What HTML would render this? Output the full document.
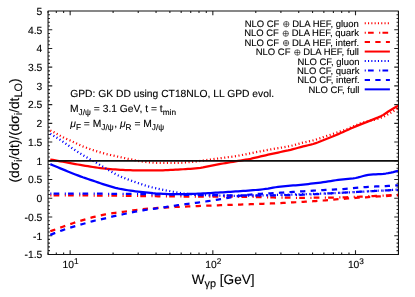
<!DOCTYPE html>
<html><head><meta charset="utf-8"><title>plot</title>
<style>
html,body{margin:0;padding:0;background:#fff;}
body{width:415px;height:297px;overflow:hidden;font-family:"Liberation Sans",sans-serif;}
svg text{white-space:pre;stroke:#000;stroke-width:0.12px;text-rendering:geometricPrecision;}
</style></head><body>
<svg width="415" height="297" viewBox="0 0 415 297" style="display:block;will-change:transform;transform:translateZ(0)">
<rect x="0" y="0" width="415" height="297" fill="#ffffff"/>
<defs><clipPath id="pc"><rect x="48.05" y="11.0" width="350.4" height="243.4"/></clipPath></defs>
<path d="M48.05,250.66h1.9M398.45,250.66h-1.9M48.05,246.91h1.9M398.45,246.91h-1.9M48.05,243.17h1.9M398.45,243.17h-1.9M48.05,239.42h1.9M398.45,239.42h-1.9M48.05,235.68h4.2M398.45,235.68h-4.2M48.05,231.93h1.9M398.45,231.93h-1.9M48.05,228.19h1.9M398.45,228.19h-1.9M48.05,224.44h1.9M398.45,224.44h-1.9M48.05,220.70h1.9M398.45,220.70h-1.9M48.05,216.95h4.2M398.45,216.95h-4.2M48.05,213.21h1.9M398.45,213.21h-1.9M48.05,209.46h1.9M398.45,209.46h-1.9M48.05,205.72h1.9M398.45,205.72h-1.9M48.05,201.98h1.9M398.45,201.98h-1.9M48.05,198.23h4.2M398.45,198.23h-4.2M48.05,194.49h1.9M398.45,194.49h-1.9M48.05,190.74h1.9M398.45,190.74h-1.9M48.05,187.00h1.9M398.45,187.00h-1.9M48.05,183.25h1.9M398.45,183.25h-1.9M48.05,179.51h4.2M398.45,179.51h-4.2M48.05,175.76h1.9M398.45,175.76h-1.9M48.05,172.02h1.9M398.45,172.02h-1.9M48.05,168.27h1.9M398.45,168.27h-1.9M48.05,164.53h1.9M398.45,164.53h-1.9M48.05,160.78h4.2M398.45,160.78h-4.2M48.05,157.04h1.9M398.45,157.04h-1.9M48.05,153.30h1.9M398.45,153.30h-1.9M48.05,149.55h1.9M398.45,149.55h-1.9M48.05,145.81h1.9M398.45,145.81h-1.9M48.05,142.06h4.2M398.45,142.06h-4.2M48.05,138.32h1.9M398.45,138.32h-1.9M48.05,134.57h1.9M398.45,134.57h-1.9M48.05,130.83h1.9M398.45,130.83h-1.9M48.05,127.08h1.9M398.45,127.08h-1.9M48.05,123.34h4.2M398.45,123.34h-4.2M48.05,119.59h1.9M398.45,119.59h-1.9M48.05,115.85h1.9M398.45,115.85h-1.9M48.05,112.10h1.9M398.45,112.10h-1.9M48.05,108.36h1.9M398.45,108.36h-1.9M48.05,104.62h4.2M398.45,104.62h-4.2M48.05,100.87h1.9M398.45,100.87h-1.9M48.05,97.13h1.9M398.45,97.13h-1.9M48.05,93.38h1.9M398.45,93.38h-1.9M48.05,89.64h1.9M398.45,89.64h-1.9M48.05,85.89h4.2M398.45,85.89h-4.2M48.05,82.15h1.9M398.45,82.15h-1.9M48.05,78.40h1.9M398.45,78.40h-1.9M48.05,74.66h1.9M398.45,74.66h-1.9M48.05,70.91h1.9M398.45,70.91h-1.9M48.05,67.17h4.2M398.45,67.17h-4.2M48.05,63.42h1.9M398.45,63.42h-1.9M48.05,59.68h1.9M398.45,59.68h-1.9M48.05,55.94h1.9M398.45,55.94h-1.9M48.05,52.19h1.9M398.45,52.19h-1.9M48.05,48.45h4.2M398.45,48.45h-4.2M48.05,44.70h1.9M398.45,44.70h-1.9M48.05,40.96h1.9M398.45,40.96h-1.9M48.05,37.21h1.9M398.45,37.21h-1.9M48.05,33.47h1.9M398.45,33.47h-1.9M48.05,29.72h4.2M398.45,29.72h-4.2M48.05,25.98h1.9M398.45,25.98h-1.9M48.05,22.23h1.9M398.45,22.23h-1.9M48.05,18.49h1.9M398.45,18.49h-1.9M48.05,14.74h1.9M398.45,14.74h-1.9M48.05,254.4v-1.9M48.05,11.0v1.9M56.32,254.4v-1.9M56.32,11.0v1.9M63.62,254.4v-1.9M63.62,11.0v1.9M70.15,254.4v-4.2M70.15,11.0v4.2M113.10,254.4v-1.9M113.10,11.0v1.9M138.22,254.4v-1.9M138.22,11.0v1.9M156.05,254.4v-1.9M156.05,11.0v1.9M169.88,254.4v-1.9M169.88,11.0v1.9M181.17,254.4v-1.9M181.17,11.0v1.9M190.72,254.4v-1.9M190.72,11.0v1.9M199.00,254.4v-1.9M199.00,11.0v1.9M206.30,254.4v-1.9M206.30,11.0v1.9M212.83,254.4v-4.2M212.83,11.0v4.2M255.78,254.4v-1.9M255.78,11.0v1.9M280.90,254.4v-1.9M280.90,11.0v1.9M298.72,254.4v-1.9M298.72,11.0v1.9M312.55,254.4v-1.9M312.55,11.0v1.9M323.85,254.4v-1.9M323.85,11.0v1.9M333.40,254.4v-1.9M333.40,11.0v1.9M341.67,254.4v-1.9M341.67,11.0v1.9M348.97,254.4v-1.9M348.97,11.0v1.9M355.50,254.4v-4.2M355.50,11.0v4.2M398.45,254.4v-1.9M398.45,11.0v1.9" stroke="#222222" stroke-width="1.1" fill="none"/>
<g clip-path="url(#pc)" fill="none" stroke-linecap="butt" stroke-linejoin="round">
<path d="M50.3,130.41 L52.8,131.65 L55.3,133.02 L57.8,134.44 L60.3,135.86 L62.8,137.22 L65.3,138.44 L67.8,139.52 L70.3,140.56 L72.8,141.69 L75.3,142.87 L77.8,144.08 L80.3,145.25 L82.8,146.35 L85.4,147.35 L87.9,148.30 L90.4,149.20 L92.9,150.06 L95.4,150.88 L97.9,151.66 L100.4,152.39 L102.9,153.09 L105.4,153.75 L107.9,154.38 L110.4,154.99 L112.9,155.58 L115.4,156.13 L117.9,156.67 L120.4,157.21 L122.9,157.74 L125.4,158.27 L127.9,158.79 L130.4,159.31 L132.9,159.85 L135.4,160.38 L137.9,160.86 L140.4,161.25 L142.9,161.61 L145.4,161.92 L147.9,162.18 L150.4,162.39 L152.9,162.59 L155.5,162.74 L158.0,162.80 L160.5,162.83 L163.0,162.85 L165.5,162.87 L168.0,162.88 L170.5,162.89 L173.0,162.90 L175.5,162.90 L178.0,162.88 L180.5,162.80 L183.0,162.65 L185.5,162.46 L188.0,162.26 L190.5,162.06 L193.0,161.82 L195.5,161.55 L198.0,161.25 L200.5,160.94 L203.0,160.60 L205.5,160.24 L208.0,159.87 L210.5,159.51 L213.0,159.16 L215.5,158.82 L218.0,158.50 L220.5,158.17 L223.0,157.84 L225.6,157.51 L228.1,157.20 L230.6,156.88 L233.1,156.55 L235.6,156.18 L238.1,155.76 L240.6,155.29 L243.1,154.78 L245.6,154.29 L248.1,153.79 L250.6,153.28 L253.1,152.78 L255.6,152.28 L258.1,151.79 L260.6,151.30 L263.1,150.81 L265.6,150.34 L268.1,149.88 L270.6,149.44 L273.1,149.02 L275.6,148.61 L278.1,148.20 L280.6,147.78 L283.1,147.35 L285.6,146.93 L288.1,146.47 L290.6,145.96 L293.1,145.34 L295.7,144.65 L298.2,143.94 L300.7,143.24 L303.2,142.62 L305.7,142.05 L308.2,141.51 L310.7,140.95 L313.2,140.34 L315.7,139.65 L318.2,138.87 L320.7,138.04 L323.2,137.18 L325.7,136.33 L328.2,135.51 L330.7,134.68 L333.2,133.86 L335.7,133.03 L338.2,132.19 L340.7,131.36 L343.2,130.56 L345.7,129.70 L348.2,128.67 L350.7,127.51 L353.2,126.35 L355.7,125.29 L358.2,124.26 L360.7,123.32 L363.2,122.52 L365.8,121.83 L368.3,121.19 L370.8,120.57 L373.3,120.00 L375.8,119.37 L378.3,118.62 L380.8,117.77 L383.3,116.79 L385.8,115.60 L388.3,114.19 L390.8,112.75 L393.3,111.26 L395.8,109.69 L398.3,108.00" stroke="#ff0000" stroke-width="2.25" stroke-dasharray="1.1,2.5"/>
<path d="M50.3,195.30 L52.8,195.31 L55.3,195.32 L57.8,195.32 L60.3,195.33 L62.8,195.34 L65.3,195.35 L67.8,195.37 L70.3,195.38 L72.8,195.39 L75.3,195.41 L77.8,195.42 L80.3,195.44 L82.8,195.45 L85.4,195.47 L87.9,195.49 L90.4,195.51 L92.9,195.53 L95.4,195.55 L97.9,195.57 L100.4,195.59 L102.9,195.61 L105.4,195.63 L107.9,195.65 L110.4,195.68 L112.9,195.70 L115.4,195.72 L117.9,195.74 L120.4,195.77 L122.9,195.79 L125.4,195.81 L127.9,195.84 L130.4,195.87 L132.9,195.91 L135.4,195.94 L137.9,195.98 L140.4,196.02 L142.9,196.06 L145.4,196.10 L147.9,196.14 L150.4,196.18 L152.9,196.21 L155.5,196.25 L158.0,196.28 L160.5,196.30 L163.0,196.33 L165.5,196.35 L168.0,196.38 L170.5,196.40 L173.0,196.42 L175.5,196.44 L178.0,196.46 L180.5,196.48 L183.0,196.50 L185.5,196.52 L188.0,196.54 L190.5,196.55 L193.0,196.57 L195.5,196.59 L198.0,196.60 L200.5,196.61 L203.0,196.63 L205.5,196.64 L208.0,196.65 L210.5,196.65 L213.0,196.66 L215.5,196.67 L218.0,196.68 L220.5,196.69 L223.0,196.69 L225.6,196.70 L228.1,196.71 L230.6,196.72 L233.1,196.73 L235.6,196.74 L238.1,196.76 L240.6,196.77 L243.1,196.79 L245.6,196.82 L248.1,196.86 L250.6,196.92 L253.1,196.98 L255.6,197.06 L258.1,197.14 L260.6,197.22 L263.1,197.29 L265.6,197.35 L268.1,197.40 L270.6,197.44 L273.1,197.49 L275.6,197.53 L278.1,197.57 L280.6,197.62 L283.1,197.65 L285.6,197.69 L288.1,197.72 L290.6,197.75 L293.1,197.77 L295.7,197.79 L298.2,197.80 L300.7,197.80 L303.2,197.80 L305.7,197.79 L308.2,197.78 L310.7,197.76 L313.2,197.75 L315.7,197.73 L318.2,197.70 L320.7,197.67 L323.2,197.65 L325.7,197.61 L328.2,197.58 L330.7,197.55 L333.2,197.51 L335.7,197.47 L338.2,197.43 L340.7,197.39 L343.2,197.33 L345.7,197.26 L348.2,197.18 L350.7,197.09 L353.2,196.98 L355.7,196.87 L358.2,196.75 L360.7,196.64 L363.2,196.52 L365.8,196.40 L368.3,196.28 L370.8,196.17 L373.3,196.05 L375.8,195.94 L378.3,195.82 L380.8,195.70 L383.3,195.58 L385.8,195.45 L388.3,195.33 L390.8,195.20 L393.3,195.07 L395.8,194.93 L398.3,194.80" stroke="#ff0000" stroke-width="2.25" stroke-dasharray="1.1,2.2,5.7,5.45"/>
<path d="M50.3,231.28 L52.8,230.34 L55.3,229.44 L57.8,228.56 L60.3,227.68 L62.8,226.79 L65.3,225.90 L67.8,225.00 L70.3,224.11 L72.8,223.26 L75.3,222.43 L77.8,221.62 L80.3,220.84 L82.8,220.08 L85.4,219.33 L87.9,218.59 L90.4,217.89 L92.9,217.21 L95.4,216.57 L97.9,215.95 L100.4,215.36 L102.9,214.82 L105.4,214.35 L107.9,213.92 L110.4,213.53 L112.9,213.16 L115.4,212.80 L117.9,212.47 L120.4,212.15 L122.9,211.83 L125.4,211.49 L127.9,211.11 L130.4,210.73 L132.9,210.36 L135.4,210.02 L137.9,209.69 L140.4,209.38 L142.9,209.10 L145.4,208.86 L147.9,208.66 L150.4,208.47 L152.9,208.30 L155.5,208.14 L158.0,207.98 L160.5,207.82 L163.0,207.66 L165.5,207.51 L168.0,207.36 L170.5,207.21 L173.0,207.08 L175.5,206.95 L178.0,206.83 L180.5,206.72 L183.0,206.62 L185.5,206.52 L188.0,206.43 L190.5,206.33 L193.0,206.24 L195.5,206.14 L198.0,206.05 L200.5,205.95 L203.0,205.86 L205.5,205.77 L208.0,205.68 L210.5,205.58 L213.0,205.49 L215.5,205.40 L218.0,205.30 L220.5,205.21 L223.0,205.11 L225.6,205.02 L228.1,204.93 L230.6,204.84 L233.1,204.75 L235.6,204.67 L238.1,204.59 L240.6,204.51 L243.1,204.44 L245.6,204.36 L248.1,204.28 L250.6,204.20 L253.1,204.12 L255.6,204.03 L258.1,203.95 L260.6,203.87 L263.1,203.78 L265.6,203.69 L268.1,203.60 L270.6,203.49 L273.1,203.38 L275.6,203.26 L278.1,203.14 L280.6,203.01 L283.1,202.89 L285.6,202.76 L288.1,202.63 L290.6,202.51 L293.1,202.38 L295.7,202.25 L298.2,202.12 L300.7,201.99 L303.2,201.85 L305.7,201.70 L308.2,201.55 L310.7,201.39 L313.2,201.22 L315.7,201.05 L318.2,200.87 L320.7,200.68 L323.2,200.50 L325.7,200.31 L328.2,200.11 L330.7,199.89 L333.2,199.68 L335.7,199.46 L338.2,199.24 L340.7,199.02 L343.2,198.82 L345.7,198.62 L348.2,198.44 L350.7,198.26 L353.2,198.09 L355.7,197.92 L358.2,197.75 L360.7,197.59 L363.2,197.43 L365.8,197.27 L368.3,197.11 L370.8,196.95 L373.3,196.79 L375.8,196.64 L378.3,196.48 L380.8,196.33 L383.3,196.18 L385.8,196.03 L388.3,195.88 L390.8,195.73 L393.3,195.59 L395.8,195.44 L398.3,195.30" stroke="#ff0000" stroke-width="2.25" stroke-dasharray="5.3,5.3"/>
<path d="M50.3,159.50 L52.8,159.96 L55.3,160.41 L57.8,160.86 L60.3,161.30 L62.8,161.75 L65.3,162.19 L67.8,162.65 L70.3,163.11 L72.8,163.58 L75.3,164.04 L77.8,164.49 L80.3,164.93 L82.8,165.36 L85.4,165.77 L87.9,166.19 L90.4,166.60 L92.9,167.00 L95.4,167.38 L97.9,167.74 L100.4,168.06 L102.9,168.34 L105.4,168.59 L107.9,168.84 L110.4,169.08 L112.9,169.29 L115.4,169.49 L117.9,169.67 L120.4,169.83 L122.9,169.95 L125.4,170.06 L127.9,170.15 L130.4,170.24 L132.9,170.32 L135.4,170.37 L137.9,170.40 L140.4,170.40 L142.9,170.40 L145.4,170.40 L147.9,170.40 L150.4,170.40 L152.9,170.40 L155.5,170.40 L158.0,170.40 L160.5,170.37 L163.0,170.30 L165.5,170.20 L168.0,170.07 L170.5,169.93 L173.0,169.79 L175.5,169.65 L178.0,169.52 L180.5,169.39 L183.0,169.25 L185.5,169.10 L188.0,168.94 L190.5,168.76 L193.0,168.58 L195.5,168.37 L198.0,168.12 L200.5,167.83 L203.0,167.44 L205.5,166.95 L208.0,166.42 L210.5,165.89 L213.0,165.40 L215.5,164.92 L218.0,164.43 L220.5,163.95 L223.0,163.49 L225.6,163.05 L228.1,162.62 L230.6,162.21 L233.1,161.80 L235.6,161.39 L238.1,160.97 L240.6,160.56 L243.1,160.15 L245.6,159.72 L248.1,159.27 L250.6,158.78 L253.1,158.22 L255.6,157.63 L258.1,157.05 L260.6,156.46 L263.1,155.88 L265.6,155.30 L268.1,154.72 L270.6,154.16 L273.1,153.61 L275.6,153.07 L278.1,152.54 L280.6,152.00 L283.1,151.47 L285.6,150.96 L288.1,150.43 L290.6,149.84 L293.1,149.19 L295.7,148.48 L298.2,147.76 L300.7,147.06 L303.2,146.40 L305.7,145.81 L308.2,145.23 L310.7,144.63 L313.2,143.97 L315.7,143.19 L318.2,142.29 L320.7,141.30 L323.2,140.28 L325.7,139.26 L328.2,138.27 L330.7,137.26 L333.2,136.24 L335.7,135.21 L338.2,134.16 L340.7,133.09 L343.2,131.98 L345.7,130.84 L348.2,129.69 L350.7,128.55 L353.2,127.44 L355.7,126.38 L358.2,125.36 L360.7,124.37 L363.2,123.39 L365.8,122.41 L368.3,121.40 L370.8,120.39 L373.3,119.41 L375.8,118.42 L378.3,117.37 L380.8,116.22 L383.3,114.88 L385.8,113.24 L388.3,111.54 L390.8,110.00 L393.3,108.52 L395.8,107.08 L398.3,105.70" stroke="#ff0000" stroke-width="2.25"/>
<path d="M50.3,133.76 L52.8,135.25 L55.3,136.73 L57.8,138.26 L60.3,139.90 L62.8,141.62 L65.3,143.36 L67.8,145.12 L70.3,146.87 L72.8,148.57 L75.3,150.24 L77.8,151.89 L80.3,153.51 L82.8,155.08 L85.4,156.59 L87.9,158.03 L90.4,159.44 L92.9,160.86 L95.4,162.30 L97.9,163.72 L100.4,165.16 L102.9,166.62 L105.4,168.14 L107.9,169.65 L110.4,171.11 L112.9,172.54 L115.4,173.93 L117.9,175.22 L120.4,176.39 L122.9,177.46 L125.4,178.46 L127.9,179.41 L130.4,180.35 L132.9,181.26 L135.4,182.14 L137.9,183.00 L140.4,183.87 L142.9,184.74 L145.4,185.53 L147.9,186.25 L150.4,186.93 L152.9,187.57 L155.5,188.18 L158.0,188.76 L160.5,189.29 L163.0,189.79 L165.5,190.28 L168.0,190.77 L170.5,191.27 L173.0,191.75 L175.5,192.22 L178.0,192.66 L180.5,193.09 L183.0,193.47 L185.5,193.77 L188.0,194.05 L190.5,194.30 L193.0,194.53 L195.5,194.73 L198.0,194.90 L200.5,195.02 L203.0,195.13 L205.5,195.23 L208.0,195.32 L210.5,195.40 L213.0,195.47 L215.5,195.52 L218.0,195.57 L220.5,195.61 L223.0,195.64 L225.6,195.67 L228.1,195.70 L230.6,195.73 L233.1,195.75 L235.6,195.77 L238.1,195.78 L240.6,195.79 L243.1,195.80 L245.6,195.80 L248.1,195.77 L250.6,195.72 L253.1,195.66 L255.6,195.59 L258.1,195.51 L260.6,195.43 L263.1,195.35 L265.6,195.27 L268.1,195.20 L270.6,195.13 L273.1,195.06 L275.6,195.00 L278.1,194.93 L280.6,194.86 L283.1,194.79 L285.6,194.72 L288.1,194.65 L290.6,194.58 L293.1,194.51 L295.7,194.43 L298.2,194.36 L300.7,194.28 L303.2,194.20 L305.7,194.12 L308.2,194.05 L310.7,193.97 L313.2,193.89 L315.7,193.81 L318.2,193.72 L320.7,193.64 L323.2,193.55 L325.7,193.47 L328.2,193.37 L330.7,193.28 L333.2,193.18 L335.7,193.08 L338.2,192.98 L340.7,192.87 L343.2,192.75 L345.7,192.62 L348.2,192.49 L350.7,192.35 L353.2,192.20 L355.7,192.05 L358.2,191.90 L360.7,191.75 L363.2,191.60 L365.8,191.45 L368.3,191.30 L370.8,191.16 L373.3,191.02 L375.8,190.87 L378.3,190.73 L380.8,190.59 L383.3,190.45 L385.8,190.31 L388.3,190.17 L390.8,190.02 L393.3,189.88 L395.8,189.74 L398.3,189.60" stroke="#0000ff" stroke-width="2.25" stroke-dasharray="1.1,2.5"/>
<path d="M50.3,193.50 L52.8,193.50 L55.3,193.51 L57.8,193.51 L60.3,193.51 L62.8,193.52 L65.3,193.53 L67.8,193.54 L70.3,193.55 L72.8,193.56 L75.3,193.57 L77.8,193.58 L80.3,193.59 L82.8,193.60 L85.4,193.62 L87.9,193.63 L90.4,193.65 L92.9,193.67 L95.4,193.68 L97.9,193.70 L100.4,193.72 L102.9,193.74 L105.4,193.75 L107.9,193.77 L110.4,193.79 L112.9,193.81 L115.4,193.83 L117.9,193.85 L120.4,193.87 L122.9,193.89 L125.4,193.91 L127.9,193.94 L130.4,193.96 L132.9,193.99 L135.4,194.03 L137.9,194.06 L140.4,194.10 L142.9,194.13 L145.4,194.17 L147.9,194.21 L150.4,194.25 L152.9,194.29 L155.5,194.33 L158.0,194.37 L160.5,194.41 L163.0,194.45 L165.5,194.49 L168.0,194.53 L170.5,194.57 L173.0,194.61 L175.5,194.66 L178.0,194.70 L180.5,194.74 L183.0,194.78 L185.5,194.82 L188.0,194.86 L190.5,194.90 L193.0,194.94 L195.5,194.97 L198.0,195.00 L200.5,195.03 L203.0,195.06 L205.5,195.09 L208.0,195.12 L210.5,195.15 L213.0,195.18 L215.5,195.21 L218.0,195.23 L220.5,195.26 L223.0,195.29 L225.6,195.31 L228.1,195.33 L230.6,195.35 L233.1,195.37 L235.6,195.38 L238.1,195.39 L240.6,195.40 L243.1,195.40 L245.6,195.40 L248.1,195.40 L250.6,195.40 L253.1,195.40 L255.6,195.40 L258.1,195.40 L260.6,195.40 L263.1,195.40 L265.6,195.40 L268.1,195.40 L270.6,195.39 L273.1,195.38 L275.6,195.35 L278.1,195.32 L280.6,195.27 L283.1,195.23 L285.6,195.17 L288.1,195.11 L290.6,195.05 L293.1,194.98 L295.7,194.92 L298.2,194.85 L300.7,194.78 L303.2,194.70 L305.7,194.61 L308.2,194.51 L310.7,194.40 L313.2,194.28 L315.7,194.16 L318.2,194.02 L320.7,193.89 L323.2,193.74 L325.7,193.60 L328.2,193.46 L330.7,193.31 L333.2,193.17 L335.7,193.03 L338.2,192.89 L340.7,192.76 L343.2,192.63 L345.7,192.50 L348.2,192.36 L350.7,192.23 L353.2,192.09 L355.7,191.96 L358.2,191.82 L360.7,191.69 L363.2,191.55 L365.8,191.42 L368.3,191.29 L370.8,191.16 L373.3,191.03 L375.8,190.91 L378.3,190.78 L380.8,190.65 L383.3,190.53 L385.8,190.41 L388.3,190.28 L390.8,190.16 L393.3,190.04 L395.8,189.92 L398.3,189.80" stroke="#0000ff" stroke-width="2.25" stroke-dasharray="1.1,2.2,5.7,5.45"/>
<path d="M50.3,234.88 L52.8,233.86 L55.3,232.87 L57.8,231.91 L60.3,230.99 L62.8,230.09 L65.3,229.24 L67.8,228.42 L70.3,227.62 L72.8,226.85 L75.3,226.11 L77.8,225.39 L80.3,224.68 L82.8,223.97 L85.4,223.25 L87.9,222.51 L90.4,221.79 L92.9,221.11 L95.4,220.50 L97.9,219.94 L100.4,219.40 L102.9,218.86 L105.4,218.28 L107.9,217.67 L110.4,217.06 L112.9,216.46 L115.4,215.89 L117.9,215.33 L120.4,214.79 L122.9,214.26 L125.4,213.73 L127.9,213.20 L130.4,212.67 L132.9,212.17 L135.4,211.68 L137.9,211.22 L140.4,210.77 L142.9,210.34 L145.4,209.93 L147.9,209.56 L150.4,209.20 L152.9,208.86 L155.5,208.52 L158.0,208.16 L160.5,207.79 L163.0,207.42 L165.5,207.04 L168.0,206.65 L170.5,206.28 L173.0,205.91 L175.5,205.54 L178.0,205.20 L180.5,204.86 L183.0,204.53 L185.5,204.21 L188.0,203.89 L190.5,203.57 L193.0,203.24 L195.5,202.89 L198.0,202.55 L200.5,202.20 L203.0,201.85 L205.5,201.49 L208.0,201.12 L210.5,200.75 L213.0,200.36 L215.5,199.96 L218.0,199.55 L220.5,199.13 L223.0,198.69 L225.6,198.26 L228.1,197.82 L230.6,197.39 L233.1,196.96 L235.6,196.51 L238.1,196.05 L240.6,195.63 L243.1,195.29 L245.6,195.01 L248.1,194.75 L250.6,194.51 L253.1,194.30 L255.6,194.10 L258.1,193.92 L260.6,193.76 L263.1,193.63 L265.6,193.50 L268.1,193.39 L270.6,193.27 L273.1,193.14 L275.6,193.00 L278.1,192.85 L280.6,192.70 L283.1,192.55 L285.6,192.40 L288.1,192.24 L290.6,192.09 L293.1,191.93 L295.7,191.77 L298.2,191.61 L300.7,191.46 L303.2,191.30 L305.7,191.14 L308.2,190.98 L310.7,190.82 L313.2,190.66 L315.7,190.50 L318.2,190.34 L320.7,190.19 L323.2,190.05 L325.7,189.91 L328.2,189.79 L330.7,189.67 L333.2,189.56 L335.7,189.44 L338.2,189.32 L340.7,189.19 L343.2,189.05 L345.7,188.88 L348.2,188.68 L350.7,188.46 L353.2,188.22 L355.7,187.97 L358.2,187.71 L360.7,187.47 L363.2,187.24 L365.8,187.03 L368.3,186.85 L370.8,186.70 L373.3,186.57 L375.8,186.46 L378.3,186.35 L380.8,186.25 L383.3,186.15 L385.8,186.04 L388.3,185.93 L390.8,185.80 L393.3,185.64 L395.8,185.48 L398.3,185.30" stroke="#0000ff" stroke-width="2.25" stroke-dasharray="5.3,5.3"/>
<path d="M50.3,164.10 L52.8,165.17 L55.3,166.23 L57.8,167.30 L60.3,168.35 L62.8,169.39 L65.3,170.41 L67.8,171.43 L70.3,172.44 L72.8,173.45 L75.3,174.44 L77.8,175.41 L80.3,176.37 L82.8,177.29 L85.4,178.18 L87.9,179.04 L90.4,179.87 L92.9,180.69 L95.4,181.52 L97.9,182.38 L100.4,183.24 L102.9,184.08 L105.4,184.90 L107.9,185.67 L110.4,186.42 L112.9,187.16 L115.4,187.85 L117.9,188.46 L120.4,188.98 L122.9,189.44 L125.4,189.86 L127.9,190.25 L130.4,190.62 L132.9,190.97 L135.4,191.30 L137.9,191.60 L140.4,191.87 L142.9,192.10 L145.4,192.34 L147.9,192.62 L150.4,192.92 L152.9,193.21 L155.5,193.45 L158.0,193.61 L160.5,193.74 L163.0,193.85 L165.5,193.96 L168.0,194.05 L170.5,194.12 L173.0,194.17 L175.5,194.20 L178.0,194.20 L180.5,194.17 L183.0,194.12 L185.5,194.06 L188.0,193.99 L190.5,193.91 L193.0,193.83 L195.5,193.75 L198.0,193.65 L200.5,193.55 L203.0,193.42 L205.5,193.30 L208.0,193.16 L210.5,193.02 L213.0,192.89 L215.5,192.74 L218.0,192.59 L220.5,192.44 L223.0,192.28 L225.6,192.11 L228.1,191.94 L230.6,191.78 L233.1,191.61 L235.6,191.44 L238.1,191.28 L240.6,191.11 L243.1,190.94 L245.6,190.76 L248.1,190.58 L250.6,190.39 L253.1,190.20 L255.6,190.00 L258.1,189.78 L260.6,189.54 L263.1,189.25 L265.6,188.93 L268.1,188.58 L270.6,188.17 L273.1,187.71 L275.6,187.24 L278.1,186.84 L280.6,186.54 L283.1,186.29 L285.6,186.06 L288.1,185.86 L290.6,185.65 L293.1,185.45 L295.7,185.26 L298.2,185.06 L300.7,184.84 L303.2,184.58 L305.7,184.30 L308.2,184.01 L310.7,183.72 L313.2,183.43 L315.7,183.14 L318.2,182.83 L320.7,182.51 L323.2,182.17 L325.7,181.82 L328.2,181.47 L330.7,181.09 L333.2,180.68 L335.7,180.25 L338.2,179.84 L340.7,179.52 L343.2,179.26 L345.7,179.05 L348.2,178.85 L350.7,178.63 L353.2,178.36 L355.7,178.00 L358.2,177.43 L360.7,176.73 L363.2,176.00 L365.8,175.35 L368.3,174.88 L370.8,174.63 L373.3,174.45 L375.8,174.31 L378.3,174.18 L380.8,174.03 L383.3,173.81 L385.8,173.51 L388.3,173.11 L390.8,172.62 L393.3,172.07 L395.8,171.45 L398.3,170.80" stroke="#0000ff" stroke-width="2.25"/>
</g>
<path d="M48.05,160.9H398.45" stroke="#0d0d0d" stroke-width="1.6" fill="none"/>
<rect x="48.05" y="11.0" width="350.40" height="243.40" fill="none" stroke="#111" stroke-width="1.05" stroke-linejoin="round"/>
<g style="font-family:'Liberation Sans',sans-serif;font-size:10.3px" fill="#000" text-anchor="end">
<text x="42.25" y="258.25">-1.5</text>
<text x="42.25" y="239.53">-1</text>
<text x="42.25" y="220.80">-0.5</text>
<text x="42.25" y="202.08">0</text>
<text x="42.25" y="183.36">0.5</text>
<text x="42.25" y="164.63">1</text>
<text x="42.25" y="145.91">1.5</text>
<text x="42.25" y="127.19">2</text>
<text x="42.25" y="108.47">2.5</text>
<text x="42.25" y="89.74">3</text>
<text x="42.25" y="71.02">3.5</text>
<text x="42.25" y="52.30">4</text>
<text x="42.25" y="33.57">4.5</text>
<text x="42.25" y="14.85">5</text>
</g>
<g style="font-family:'Liberation Sans',sans-serif;font-size:10.3px" fill="#000">
<text x="62.55" y="268.3">10<tspan dy="-4.2" style="font-size:8.24px">1</tspan></text>
<text x="205.23" y="268.3">10<tspan dy="-4.2" style="font-size:8.24px">2</tspan></text>
<text x="347.90" y="268.3">10<tspan dy="-4.2" style="font-size:8.24px">3</tspan></text>
</g>
<text x="191.7" y="283.6" style="font-family:'Liberation Sans',sans-serif;font-size:13.6px" fill="#000">W<tspan dy="3.6" style="font-size:10.88px">γp</tspan><tspan dy="-3.6"> [GeV]</tspan></text>
<text transform="translate(18.6,182.5) rotate(-90)" style="font-family:'Liberation Sans',sans-serif;font-size:13.7px" fill="#000">(dσ<tspan dy="3.6" style="font-size:10.88px">i</tspan><tspan dy="-3.6">/dt)/(dσ</tspan><tspan dy="3.6" style="font-size:10.88px">i</tspan><tspan dy="-3.6">/dt</tspan><tspan dy="3.6" style="font-size:10.88px">LO</tspan><tspan dy="-3.6">)</tspan></text>
<g style="font-family:'Liberation Sans',sans-serif;font-size:10.3px" fill="#000">
<text x="70.2" y="96.8">GPD: GK DD using CT18NLO, LL GPD evol.</text>
<text x="70.0" y="112.0">M<tspan dy="2.5" style="font-size:8.24px">J/ψ</tspan><tspan dy="-2.5" dx="0.1"> = 3.1 GeV, t = t</tspan><tspan dy="2.5" style="font-size:8.24px">min</tspan></text>
<text x="70.3" y="127.0"><tspan font-style="italic">μ</tspan><tspan dy="2.5" style="font-size:8.24px">F</tspan><tspan dy="-2.5"> = M</tspan><tspan dy="2.5" style="font-size:8.24px">J/ψ</tspan><tspan dy="-2.5" dx="0.6">, </tspan><tspan font-style="italic">μ</tspan><tspan dy="2.5" style="font-size:8.24px">R</tspan><tspan dy="-2.5"> = M</tspan><tspan dy="2.5" style="font-size:8.24px">J/ψ</tspan></text>
</g>
<g style="font-family:'Liberation Sans',sans-serif;font-size:9.46px" fill="#000">
<path d="M364.7,23.20H389.9" stroke="#ff0000" stroke-width="2.0" fill="none" stroke-dasharray="1.1,2.2"/>
<text x="289.52" y="26.75"> DLA HEF, gluon</text><circle cx="286.27" cy="24.15" r="2.7" fill="none" stroke="#111" stroke-width="0.6"/><path d="M283.57,24.15h5.4M286.27,21.45v5.4" stroke="#111" stroke-width="0.6" fill="none"/><text x="244.70" y="26.75">NLO CF </text>
<path d="M364.7,32.65H389.9" stroke="#ff0000" stroke-width="2.0" fill="none" stroke-dasharray="1.1,2.2,5.7,5.45"/>
<text x="289.00" y="36.20"> DLA HEF, quark</text><circle cx="285.75" cy="33.60" r="2.7" fill="none" stroke="#111" stroke-width="0.6"/><path d="M283.05,33.60h5.4M285.75,30.90v5.4" stroke="#111" stroke-width="0.6" fill="none"/><text x="244.18" y="36.20">NLO CF </text>
<path d="M364.7,42.10H389.9" stroke="#ff0000" stroke-width="2.0" fill="none" stroke-dasharray="5.3,5.3"/>
<text x="289.30" y="45.65"> DLA HEF, interf.</text><circle cx="286.05" cy="43.05" r="2.7" fill="none" stroke="#111" stroke-width="0.6"/><path d="M283.35,43.05h5.4M286.05,40.35v5.4" stroke="#111" stroke-width="0.6" fill="none"/><text x="244.49" y="45.65">NLO CF </text>
<path d="M364.7,51.55H389.9" stroke="#ff0000" stroke-width="2.0" fill="none"/>
<text x="300.57" y="55.10"> DLA HEF, full</text><circle cx="297.32" cy="52.50" r="2.7" fill="none" stroke="#111" stroke-width="0.6"/><path d="M294.62,52.50h5.4M297.32,49.80v5.4" stroke="#111" stroke-width="0.6" fill="none"/><text x="255.75" y="55.10">NLO CF </text>
<path d="M364.7,61.00H389.9" stroke="#0000ff" stroke-width="2.0" fill="none" stroke-dasharray="1.1,2.2"/>
<text x="297.41" y="64.55">NLO CF, gluon</text>
<path d="M364.7,70.45H389.9" stroke="#0000ff" stroke-width="2.0" fill="none" stroke-dasharray="1.1,2.2,5.7,5.45"/>
<text x="296.89" y="74.00">NLO CF, quark</text>
<path d="M364.7,79.90H389.9" stroke="#0000ff" stroke-width="2.0" fill="none" stroke-dasharray="5.3,5.3"/>
<text x="297.19" y="83.45">NLO CF, interf.</text>
<path d="M364.7,89.35H389.9" stroke="#0000ff" stroke-width="2.0" fill="none"/>
<text x="308.46" y="92.90">NLO CF, full</text>
</g>
</svg>
</body></html>
